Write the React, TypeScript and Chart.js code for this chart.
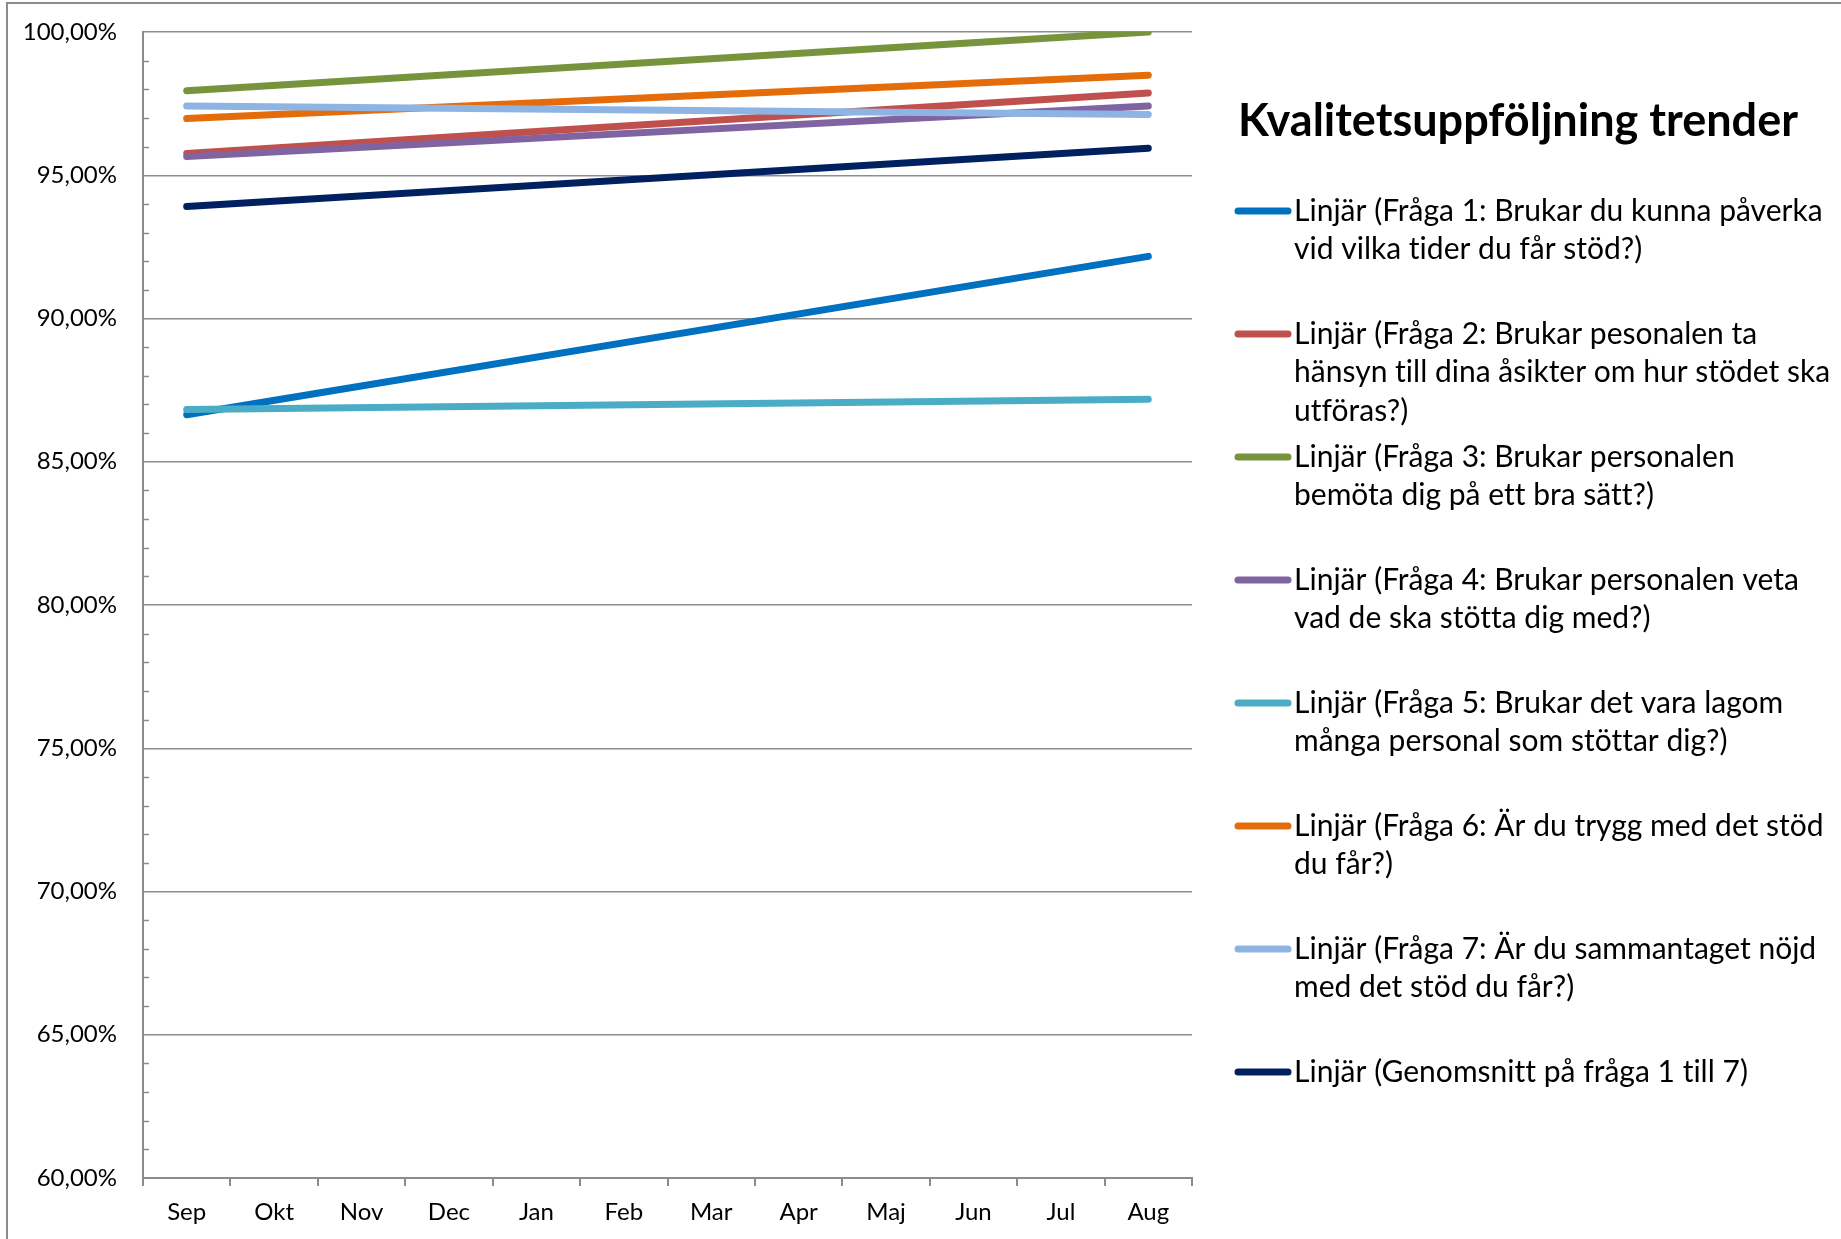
import React, { useEffect, useRef } from "react";
import { Chart, registerables } from "chart.js";

Chart.register(...registerables);

// ---------- data ----------
const MONTHS = ["Sep", "Okt", "Nov", "Dec", "Jan", "Feb", "Mar", "Apr", "Maj", "Jun", "Jul", "Aug"];

// Linear trend lines: start (Sep) and end (Aug) values
const Q1 = [86.64, null, null, null, null, null, null, null, null, null, null, 92.17];
const Q2 = [95.76, null, null, null, null, null, null, null, null, null, null, 97.87];
const Q3 = [97.95, null, null, null, null, null, null, null, null, null, null, 100.0];
const Q4 = [95.65, null, null, null, null, null, null, null, null, null, null, 97.42];
const Q5 = [86.82, null, null, null, null, null, null, null, null, null, null, 87.18];
const Q6 = [96.98, null, null, null, null, null, null, null, null, null, null, 98.49];
const Q7 = [97.42, null, null, null, null, null, null, null, null, null, null, 97.12];
const AVG = [93.91, null, null, null, null, null, null, null, null, null, null, 95.94];

const SERIES_VALUES = [Q1, Q2, Q3, Q4, Q5, Q6, Q7, AVG];

const SERIES_LINES: string[][] = [
  ["Linjär (Fråga 1: Brukar du kunna påverka", "vid vilka tider du får stöd?)"],
  ["Linjär (Fråga 2: Brukar pesonalen ta", "hänsyn till dina åsikter om hur stödet ska", "utföras?)"],
  ["Linjär (Fråga 3: Brukar personalen", "bemöta dig på ett bra sätt?)"],
  ["Linjär (Fråga 4: Brukar personalen veta", "vad de ska stötta dig med?)"],
  ["Linjär (Fråga 5: Brukar det vara lagom", "många personal som stöttar dig?)"],
  ["Linjär (Fråga 6: Är du trygg med det stöd", "du får?)"],
  ["Linjär (Fråga 7: Är du sammantaget nöjd", "med det stöd du får?)"],
  ["Linjär (Genomsnitt på fråga 1 till 7)"],
];

const SERIES_COLORS = ["#0070C0", "#C0504D", "#77933C", "#8064A2", "#4BACC6", "#E46C0A", "#8EB4E3", "#002060"];

const TITLE = "Kvalitetsuppföljning trender";

const Y_MIN = 60;
const Y_MAX = 100;
const Y_STEP = 5;
const Y_MINOR_STEP = 1;

// ---------- styles ----------
const FONT = "Lato, 'Open Sans', sans-serif";
const AXIS_COLOR = "#8c8c8c";
const GRID_COLOR = "#8e8e8e";

const W = 1841;
const H = 1239;

const sideLegendPlugin = {
  id: "sideLegend",
  afterDraw(chart: any) {
    const ctx = chart.ctx as CanvasRenderingContext2D;
    ctx.save();
    try {
      (ctx as any).letterSpacing = "0.01px";
    } catch (e) {}
    // title
    ctx.fillStyle = "#000";
    ctx.font = `bold 45px ${FONT}`;
    ctx.textAlign = "center";
    ctx.textBaseline = "middle";
    ctx.fillText(TITLE, 1518, 121);

    // legend
    ctx.textAlign = "left";
    ctx.font = `30px ${FONT}`;
    const firstY = 211;
    const rowGap = 123;
    const lineGap = 38.5;
    chart.data.datasets.forEach((ds: any, i: number) => {
      const y0 = firstY + i * rowGap;
      ctx.strokeStyle = ds.borderColor;
      ctx.lineWidth = 7;
      ctx.lineCap = "round";
      ctx.beginPath();
      ctx.moveTo(1238, y0);
      ctx.lineTo(1288, y0);
      ctx.stroke();
      ctx.fillStyle = "#000";
      (ds.legendLines as string[]).forEach((line, j) => {
        ctx.fillText(line, 1294, y0 + j * lineGap);
      });
    });
    ctx.restore();
  },
};

const minorTickPlugin = {
  id: "minorTicks",
  afterDatasetsDraw(chart: any) {
    const ctx = chart.ctx as CanvasRenderingContext2D;
    const yScale = chart.scales.y;
    const left = chart.chartArea.left;
    ctx.save();
    ctx.strokeStyle = AXIS_COLOR;
    ctx.lineWidth = 1.5;
    for (let v = yScale.min; v <= yScale.max; v += Y_MINOR_STEP) {
      if (v % Y_STEP === 0) continue;
      const y = Math.round(yScale.getPixelForValue(v)) + 0.5;
      ctx.beginPath();
      ctx.moveTo(left, y);
      ctx.lineTo(left + 6, y);
      ctx.stroke();
    }
    ctx.restore();
  },
};

export default function App() {
  const canvasRef = useRef<HTMLCanvasElement | null>(null);

  useEffect(() => {
    const canvas = canvasRef.current;
    if (!canvas) return;
    const n = SERIES_VALUES.length;
    const chart = new Chart(canvas, {
      type: "line",
      data: {
        labels: MONTHS,
        datasets: SERIES_VALUES.map((vals, i) => ({
          label: SERIES_LINES[i].join(" "),
          legendLines: SERIES_LINES[i],
          data: vals,
          borderColor: SERIES_COLORS[i],
          backgroundColor: SERIES_COLORS[i],
          borderWidth: 7,
          borderCapStyle: "round",
          pointRadius: 0,
          pointHoverRadius: 0,
          spanGaps: true,
          tension: 0,
          clip: 0,
          order: n - i,
        })) as any,
      },
      options: {
        animation: false,
        responsive: false,
        devicePixelRatio: 1,
        layout: { padding: { top: 32, right: W - 1192, bottom: 0, left: 0 } },
        plugins: {
          legend: { display: false },
          title: { display: false },
          tooltip: { enabled: false },
        },
        scales: {
          x: {
            type: "category",
            offset: true,
            grid: {
              offset: true,
              drawOnChartArea: false,
              drawTicks: true,
              tickLength: 8,
              color: AXIS_COLOR,
              lineWidth: 2,
            },
            border: { display: true, color: AXIS_COLOR, width: 2 },
            ticks: {
              color: "#000",
              font: { family: FONT, size: 24 },
              padding: 12,
              maxRotation: 0,
              autoSkip: false,
            },
            afterFit: (scale: any) => {
              scale.height = H - 1178;
            },
          },
          y: {
            min: Y_MIN,
            max: Y_MAX,
            ticks: {
              stepSize: Y_STEP,
              color: "#000",
              font: { family: FONT, size: 24 },
              padding: 3,
              callback: (v: any) => Number(v).toFixed(2).replace(".", ",") + "%",
            },
            grid: {
              color: GRID_COLOR,
              lineWidth: 1.5,
              drawTicks: true,
              tickLength: 23,
              tickColor: "rgba(0,0,0,0)",
            },
            border: { display: true, color: AXIS_COLOR, width: 2 },
            afterFit: (scale: any) => {
              scale.width = 143;
            },
          },
        },
      },
      plugins: [minorTickPlugin, sideLegendPlugin],
    });
    return () => chart.destroy();
  }, []);

  return (
    <>
      <div
        style={{
          position: "fixed",
          left: 6,
          top: 2,
          width: W - 6,
          height: H,
          borderTop: `2px solid ${AXIS_COLOR}`,
          borderLeft: `2px solid ${AXIS_COLOR}`,
          boxSizing: "border-box",
          background: "#fff",
        }}
      />
      <canvas
        ref={canvasRef}
        width={W}
        height={H}
        style={{ position: "fixed", left: 0, top: 0, width: W, height: H }}
      />
    </>
  );
}
